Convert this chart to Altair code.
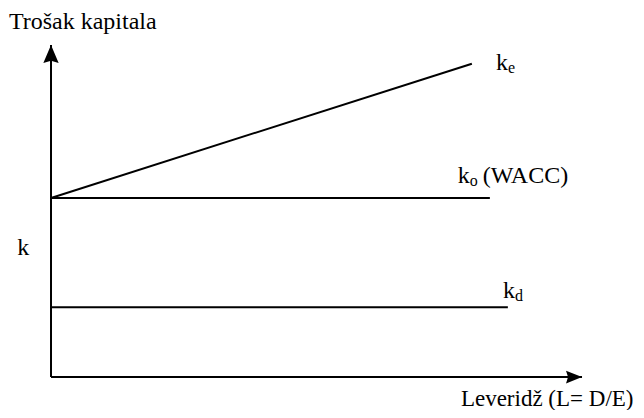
import altair as alt
import pandas as pd

# Cost-of-capital lines: leverage L (x) vs cost k (y)
line_names = ["ke", "ko", "kd"]
line_L_start = [0.0, 0.0, 0.0]
line_L_end = [95.9, 100.0, 104.1]
line_k_start = [10.0, 10.0, 3.9]
line_k_end = [17.5, 10.0, 3.9]

# Axes (from origin to arrow tip)
axis_L_start = [0.0, 0.0]
axis_L_end = [0.0, 121.0]
axis_k_start = [0.0, 0.0]
axis_k_end = [18.55, 0.0]

# Main labels
label_text = ["Trošak kapitala", "k", "k", "k", "(WACC)", "k"]
label_L = [-9.6, -7.7, 101.4, 92.7, 98.4, 103.0]
label_k = [19.44, 6.82, 17.15, 10.84, 10.84, 4.41]

# x-axis title
xtitle_text = ["Leveridž (L= D/E)"]
xtitle_L = [93.4]
xtitle_k = [-1.62]

# Subscripts (attached to the "k" labels above)
sub_text = ["e", "o", "d"]
sub_L = [101.4, 92.7, 103.0]
sub_k = [17.15, 10.84, 4.41]

lines = pd.DataFrame({"name": line_names, "L": line_L_start, "L2": line_L_end,
                      "k": line_k_start, "k2": line_k_end})
axes = pd.DataFrame({"L": axis_L_start, "L2": axis_L_end,
                     "k": axis_k_start, "k2": axis_k_end})
labels = pd.DataFrame({"text": label_text, "L": label_L, "k": label_k})
xtitle = pd.DataFrame({"text": xtitle_text, "L": xtitle_L, "k": xtitle_k})
subs = pd.DataFrame({"text": sub_text, "L": sub_L, "k": sub_k})
y_tip = pd.DataFrame({"L": [axis_L_end[0]], "k": [axis_k_end[0]]})
x_tip = pd.DataFrame({"L": [axis_L_end[1]], "k": [axis_k_end[1]]})

xs = alt.Scale(domain=[-9.8, 133.3], nice=False, zero=False)
ys = alt.Scale(domain=[-1.84, 20.61], nice=False, zero=False)
X = alt.X("L:Q", scale=xs, axis=None)
Y = alt.Y("k:Q", scale=ys, axis=None)

FONT = "Liberation Serif"

line_layer = alt.Chart(lines).mark_rule(color="black", strokeWidth=2).encode(
    x=X, y=Y, x2="L2:Q", y2="k2:Q")
axis_layer = alt.Chart(axes).mark_rule(color="black", strokeWidth=2).encode(
    x=X, y=Y, x2="L2:Q", y2="k2:Q")
up_arrow = alt.Chart(y_tip).mark_point(
    shape="M0,0L0.85,2L0,1.75L-0.85,2Z", size=324, filled=True, color="black",
    opacity=1, strokeWidth=0).encode(x=X, y=Y)
right_arrow = alt.Chart(x_tip).mark_point(
    shape="M0,0L-2,-0.8L-1.75,0L-2,0.8Z", size=256, filled=True, color="black",
    opacity=1, strokeWidth=0).encode(x=X, y=Y)
text_layer = alt.Chart(labels).mark_text(
    align="left", baseline="alphabetic", font=FONT, fontSize=24,
    color="black").encode(x=X, y=Y, text="text:N")
xtitle_layer = alt.Chart(xtitle).mark_text(
    align="left", baseline="alphabetic", font=FONT, fontSize=23,
    color="black").encode(x=X, y=Y, text="text:N")
sub_layer = alt.Chart(subs).mark_text(
    align="left", baseline="alphabetic", font=FONT, fontSize=16,
    color="black", dx=12, dy=3).encode(x=X, y=Y, text="text:N")

chart = alt.layer(line_layer, axis_layer, up_arrow, right_arrow,
                  text_layer, xtitle_layer, sub_layer).properties(
    width=628, height=402, padding=0,
    autosize=alt.AutoSizeParams(type="none"),
    background="white",
).configure_view(stroke=None)

chart.save("out.html", embed_options={"renderer": "svg", "actions": False})
